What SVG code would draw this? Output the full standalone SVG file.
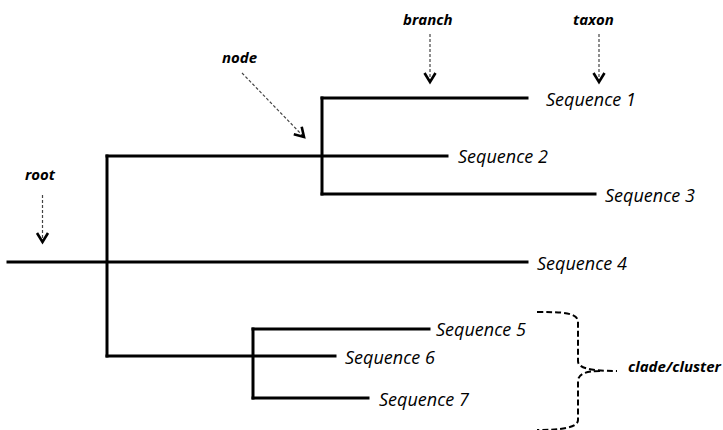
<svg xmlns="http://www.w3.org/2000/svg" width="723" height="430" viewBox="0 0 723 430">
  <style>
    .branch { stroke: #000; stroke-width: 3; fill: none; stroke-linecap: square; }
    .seq { font-family: "Open Sans", "Liberation Sans", sans-serif; font-style: italic; font-size: 18px; fill: #000; }
    .lbl { font-family: "Open Sans", "Liberation Sans", sans-serif; font-style: italic; font-weight: bold; font-size: 15px; fill: #000; }
    .pointer { stroke: #444; stroke-width: 1.2; stroke-dasharray: 3,2; fill: none; }
    .brace { stroke: #000; stroke-width: 2; stroke-dasharray: 6,3; fill: none; }
  </style>
  <defs>
    <marker id="chev" markerUnits="userSpaceOnUse" markerWidth="16" markerHeight="16" viewBox="-12 -8 16 16" refX="0" refY="0" orient="auto">
      <path d="M-9,-5.5 L0,0 L-9,5.5" stroke="#000" stroke-width="2.6" fill="none"/>
    </marker>
  </defs>

  <rect width="723" height="430" fill="#fff"/>

  <!-- tree branches -->
  <g id="connectors">
    <!-- root stem and Sequence 4 -->
    <line class="branch" x1="8" y1="262" x2="527" y2="262"/>
    <!-- main split -->
    <line class="branch" x1="107" y1="156" x2="107" y2="356"/>
    <line class="branch" x1="107" y1="156" x2="447" y2="156"/>
    <line class="branch" x1="107" y1="356" x2="335" y2="356"/>
    <!-- upper clade -->
    <line class="branch" x1="322" y1="98" x2="322" y2="194"/>
    <line class="branch" x1="322" y1="98" x2="527" y2="98"/>
    <line class="branch" x1="322" y1="194" x2="595" y2="194"/>
    <!-- lower clade -->
    <line class="branch" x1="253" y1="329" x2="253" y2="398"/>
    <line class="branch" x1="253" y1="329" x2="429" y2="329"/>
    <line class="branch" x1="253" y1="398" x2="368" y2="398"/>
  </g>

  <!-- taxa -->
  <g id="seq1"><text class="seq" x="546" y="106">Sequence 1</text></g>
  <g id="seq2"><text class="seq" x="458" y="163">Sequence 2</text></g>
  <g id="seq3"><text class="seq" x="605" y="202">Sequence 3</text></g>
  <g id="seq4"><text class="seq" x="537" y="270">Sequence 4</text></g>
  <g id="seq5"><text class="seq" x="436" y="336">Sequence 5</text></g>
  <g id="seq6"><text class="seq" x="345" y="364">Sequence 6</text></g>
  <g id="seq7"><text class="seq" x="379" y="406">Sequence 7</text></g>

  <!-- annotation pointers -->
  <g id="root-label">
    <text class="lbl" x="25" y="180">root</text>
    <line class="pointer" x1="42.5" y1="195" x2="42.5" y2="242" marker-end="url(#chev)"/>
  </g>
  <g id="node-label">
    <text class="lbl" x="222" y="63">node</text>
    <line class="pointer" x1="242" y1="73" x2="304" y2="137" marker-end="url(#chev)"/>
  </g>
  <g id="branch-label">
    <text class="lbl" x="403" y="25">branch</text>
    <line class="pointer" x1="430" y1="34" x2="430" y2="82" marker-end="url(#chev)"/>
  </g>
  <g id="taxon-label">
    <text class="lbl" x="573" y="25">taxon</text>
    <line class="pointer" x1="599" y1="34" x2="599" y2="82" marker-end="url(#chev)"/>
  </g>
  <g id="clade-label">
    <path class="brace" d="M537,312 C560,312 578,312 578,322 L578,361 C578,368 590,371 617,371 M600,371 C586,371 578,374 578,381 L578,420 C578,428 560,430 537,430"/>
    <text class="lbl" x="628" y="372">clade/cluster</text>
  </g>
</svg>
